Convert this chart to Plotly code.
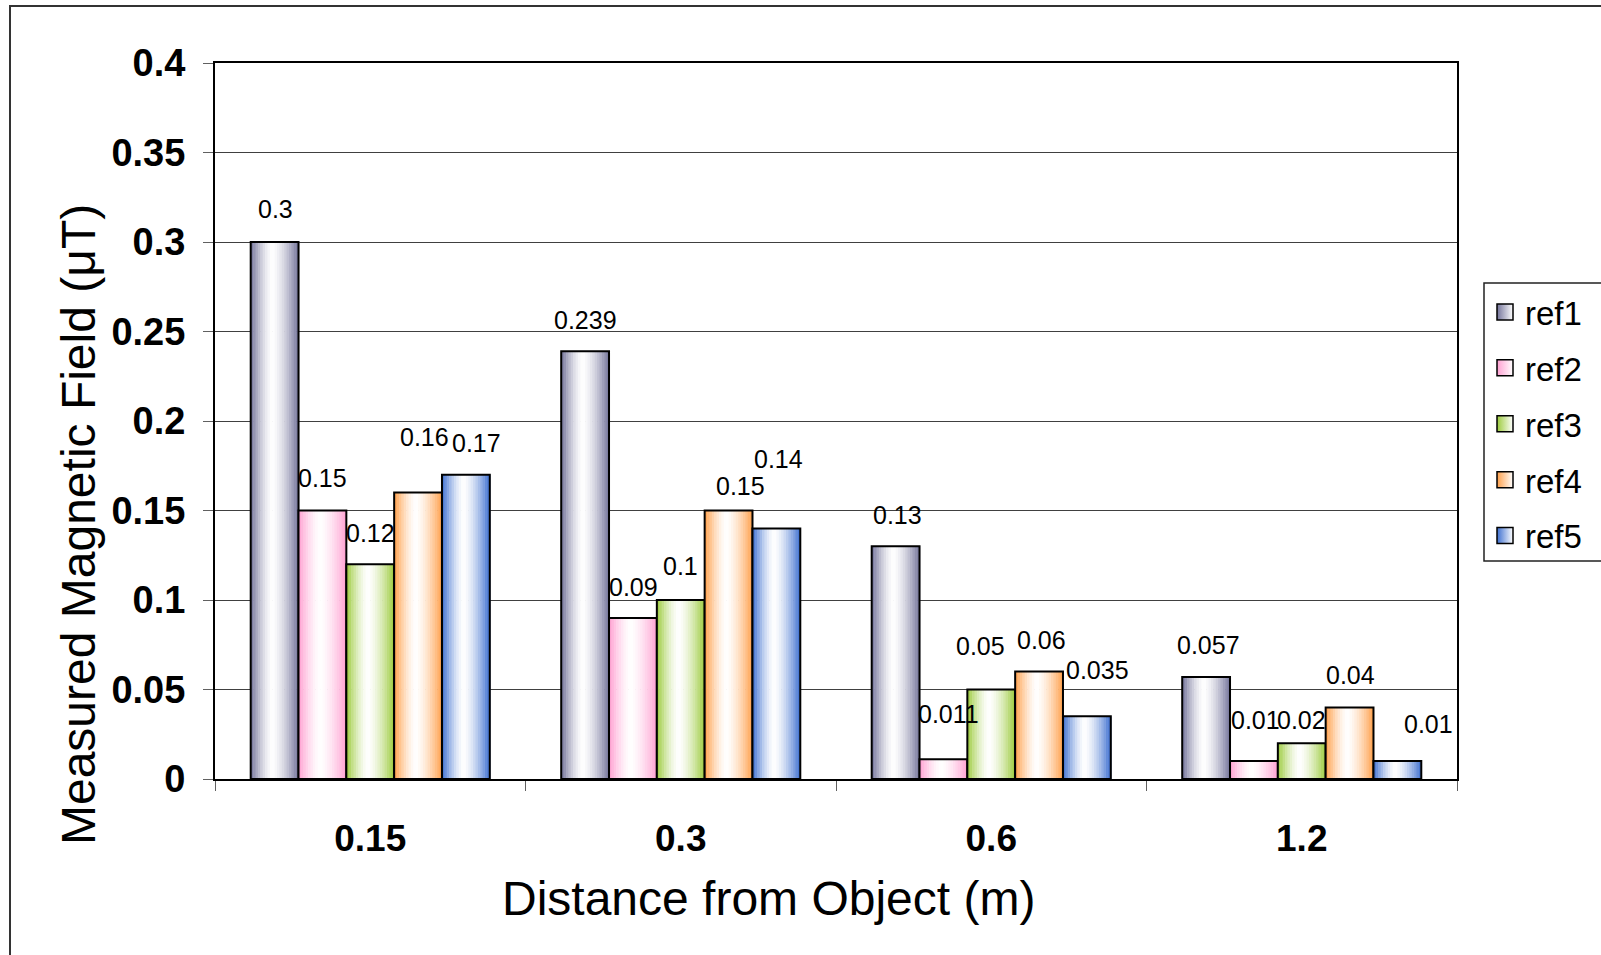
import plotly.graph_objects as go

# ---- data ----
categories = ["0.15", "0.3", "0.6", "1.2"]
series_names = ["ref1", "ref2", "ref3", "ref4", "ref5"]
ref1 = [0.3, 0.239, 0.13, 0.057]
ref2 = [0.15, 0.09, 0.011, 0.01]
ref3 = [0.12, 0.1, 0.05, 0.02]
ref4 = [0.16, 0.15, 0.06, 0.04]
ref5 = [0.17, 0.14, 0.035, 0.01]
series_values = [ref1, ref2, ref3, ref4, ref5]
y_ticks = [0, 0.05, 0.1, 0.15, 0.2, 0.25, 0.3, 0.35, 0.4]
x_title = "Distance from Object (m)"
y_title = "Measured Magnetic Field (μT)"

# ---- styles ----
edge_colors = ["#73739a", "#ffa0d2", "#9ccb3c", "#ffa04a", "#3d6fd0"]
# label nudges (px) to mimic the original label placement
label_dx = [[1, 0, 2, 2], [0, 1, 5, 2], [0, 0, -11, 0], [6, 12, 2, 1], [10, 2, 10, 30]]
label_dy = [[32, 31, 31, 31], [32, 30, 44, 40], [31, 33, 43, 23], [54, 24, 31, 32], [31, 68, 45, 36]]

FONT = "Arial, Liberation Sans, sans-serif"
W, H = 1601, 955
ML, MR, MT, MB = 215, 144, 63, 176
PW, PH = W - ML - MR, H - MT - MB

BW = 0.154          # bar width (category units)
G0 = -0.385         # left edge of the group
NS = 20             # gradient slices


def hex2rgb(h):
    h = h.lstrip("#")
    return tuple(int(h[i:i + 2], 16) for i in (0, 2, 4))


def mix(c, m):
    r, g, b = hex2rgb(c)
    return "rgb(%d,%d,%d)" % (255 + (r - 255) * m, 255 + (g - 255) * m, 255 + (b - 255) * m)


def profile(t, c=0.45):
    d = abs(t - c) / (c if t < c else 1 - c)
    d = min(1.0, d)
    return d ** 1.5


def px_x(px):
    return (px - ML) / PW


def px_y(py):
    return (H - MB - py) / PH


fig = go.Figure()

for s, (name, vals, col) in enumerate(zip(series_names, series_values, edge_colors)):
    left = G0 + s * BW
    sw = BW / NS
    for k in range(NS):
        t = (k + 0.5) / NS
        fig.add_trace(go.Bar(
            x=categories, y=vals, width=sw * 1.25, offset=left + k * sw,
            marker=dict(color=mix(col, profile(t)), line=dict(width=0)),
            showlegend=False, hoverinfo="skip",
        ))
    fig.add_trace(go.Bar(
        x=categories, y=vals, width=BW, offset=left, name=name,
        marker=dict(color="rgba(0,0,0,0)", line=dict(color="black", width=2)),
        showlegend=False,
    ))

# legend entries
for s, (name, col) in enumerate(zip(series_names, edge_colors)):
    fig.add_trace(go.Scatter(
        x=[None], y=[None], mode="markers", name=name, legendgroup=name,
        marker=dict(symbol="square", size=16, color=col,
                    gradient=dict(type="horizontal", color="white"),
                    line=dict(color="black", width=1.5)),
    ))

# data labels
ann = []
for s, vals in enumerate(series_values):
    for i, v in enumerate(vals):
        ann.append(dict(
            x=i + G0 + (s + 0.5) * BW, y=v, xref="x", yref="y",
            text=str(v), showarrow=False,
            font=dict(family=FONT, size=25, color="black"),
            xshift=label_dx[s][i] * 1.021, yshift=label_dy[s][i] * 1.021,
        ))

# axis titles (positioned as in the original)
ann.append(dict(text=x_title, xref="paper", yref="paper", x=px_x(768), y=px_y(898),
                xanchor="center", yanchor="middle", showarrow=False,
                font=dict(family=FONT, size=48, color="black")))
ann.append(dict(text=y_title, xref="paper", yref="paper", x=px_x(78), y=px_y(525),
                xanchor="center", yanchor="middle", showarrow=False, textangle=-90,
                font=dict(family=FONT, size=48, color="black")))

# outer chart border (left and top visible) and legend frame running off the right edge
bx = px_x(10)
by = px_y(6)
shapes = [
    dict(type="path", xref="paper", yref="paper",
         path=f"M {bx},-1 L {bx},{by} L 2,{by}",
         line=dict(color="#333333", width=2)),
    dict(type="rect", xref="paper", yref="paper", layer="above",
         x0=px_x(1484), x1=px_x(1700), y0=px_y(561), y1=px_y(283),
         line=dict(color="#222222", width=1.5), fillcolor="rgba(0,0,0,0)"),
]

fig.update_layout(
    width=W, height=H,
    margin=dict(l=ML, r=MR, t=MT, b=MB, autoexpand=False),
    barmode="overlay",
    plot_bgcolor="white", paper_bgcolor="white",
    font=dict(family=FONT, color="black"),
    annotations=ann, shapes=shapes,
    legend=dict(
        x=px_x(1485), y=px_y(284), xanchor="left", yanchor="top",
        borderwidth=0, bgcolor="rgba(0,0,0,0)",
        font=dict(family=FONT, size=33, color="black"),
        traceorder="grouped", tracegroupgap=10,
    ),
    xaxis=dict(
        type="category", range=[-0.5, 3.5],
        showline=True, linecolor="black", linewidth=2, mirror=True,
        ticks="outside", tickson="boundaries", ticklen=10, tickcolor="#606060",
        tickfont=dict(family=FONT, size=37, weight="bold"),
        ticklabelstandoff=26,
        showgrid=False,
    ),
    yaxis=dict(
        range=[0, 0.4], tickvals=y_ticks,
        showline=True, linecolor="black", linewidth=2, mirror=True,
        ticks="outside", ticklen=10, tickcolor="#606060",
        tickfont=dict(family=FONT, size=38, weight="bold"),
        ticklabelstandoff=10,
        showgrid=True, gridcolor="#404040", gridwidth=1,
        zeroline=False,
    ),
)

fig.write_html("out.html", config={"displayModeBar": False},
               post_script="document.body.style.margin='0';document.body.style.overflow='hidden';")
